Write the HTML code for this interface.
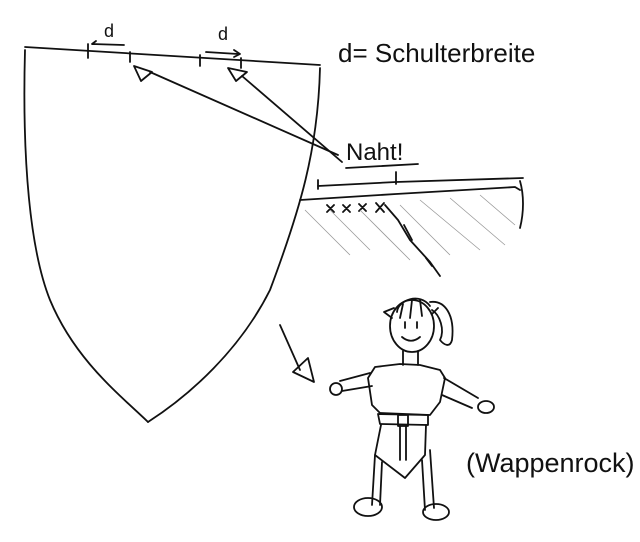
<!DOCTYPE html>
<html><head><meta charset="utf-8"><style>
html,body{margin:0;padding:0;background:#fff;}
svg{display:block}
text{font-family:"Liberation Sans",sans-serif;fill:#111}
</style></head><body>
<svg width="640" height="542" viewBox="0 0 640 542" xmlns="http://www.w3.org/2000/svg">
<g fill="none" stroke="#111" stroke-width="1.8" stroke-linecap="round" stroke-linejoin="round">
<!-- shield -->
<path d="M25,47 L320,65"/>
<path d="M25,50 C22,160 30,250 50,300 C75,360 120,395 148,422"/>
<path d="M320,68 C318,150 300,210 270,290 C240,350 190,395 148,422"/>
<!-- ticks -->
<path d="M88,44 V58 M130,52 V62 M200,55 V66 M241,58 V68"/>
<!-- d arrows -->
<path d="M124,45 L92,44 M92,44 L96,41"/>
<path d="M206,52 L238,54 M234,50 L240,54 L234,57"/>
<!-- triangles + lines -->
<path d="M134,66 L152,72 L141,81 Z"/>
<path d="M228,68 L247,72 L236,81 Z"/>
<path d="M150,72 L338,155"/>
<path d="M242,76 L342,162"/>
<!-- Naht underline -->
<path d="M346,168 L418,164"/>
<!-- seam strip -->
<path d="M318,186 L396,182 L523,178"/>
<path d="M318,180 V189 M396,172 V184"/>
<path d="M300,200 L396,194 L515,187 L520,190"/>
<path d="M520,181 C524,195 524,212 520,228"/>
<path d="M327,205 l7,7 M334,205 l-7,7 M343,205 l7,7 M350,205 l-7,7 M359,204 l7,7 M366,204 l-7,7 M376,203 l8,9 M384,203 l-8,9"/>
<path d="M385,205 L398,220 L410,240 L430,262 L440,276"/>
<path d="M404,225 L412,240 M426,258 L432,266"/>
<!-- arrow to figure -->
<path d="M280,325 L300,370"/>
<path d="M293,372 L314,382 L308,358 Z"/>
<!-- figure -->
<ellipse cx="412" cy="326" rx="22" ry="26"/>
<path d="M392,318 L384,312 L394,308"/>
<path d="M432,314 L438,308"/>
<path d="M397,312 C398,300 420,292 430,306 M403,304 L400,318 M412,300 L410,318 M420,300 L422,316"/>
<path d="M430,302 C445,300 455,315 452,340 C450,348 444,345 440,340 C445,330 440,315 432,310"/>
<path d="M405,322 V328 M417,322 V328 M402,337 C408,342 414,342 420,337"/>
<path d="M403,351 V365 M418,351 V365"/>
<path d="M375,367 L400,364 L420,365 L440,370 L445,378 L440,402 L430,415 L380,413 L372,405 L368,378 Z"/>
<path d="M370,373 L340,381 M372,386 L342,391"/>
<circle cx="336" cy="389" r="6"/>
<path d="M444,378 L478,398 M442,395 L472,408"/>
<ellipse cx="486" cy="407" rx="8" ry="6"/>
<path d="M378,414 L428,415 L428,425 L380,424 Z"/>
<rect x="398" y="415" width="10" height="11"/>
<path d="M381,425 L375,455 L405,478 L425,455 L426,425"/>
<path d="M400,426 V460 M406,426 V460"/>
<path d="M375,455 L372,505 M382,462 L380,505"/>
<path d="M422,460 L425,510 M430,450 L434,508"/>
<ellipse cx="368" cy="507" rx="14" ry="9"/>
<ellipse cx="436" cy="512" rx="13" ry="8"/>
</g>
<g stroke="#999" stroke-width="0.8">
<path d="M330,210 L370,250 M360,210 L410,260 M400,205 L450,255 M420,200 L480,250 M450,198 L505,245 M480,195 L515,225 M320,225 L350,255 M305,210 L325,230"/>
</g>
<text x="104" y="37" font-size="18">d</text>
<text x="218" y="40" font-size="18">d</text>
<text x="338" y="62" font-size="26">d= Schulterbreite</text>
<text x="346" y="160" font-size="24">Naht!</text>
<text x="466" y="472" font-size="27">(Wappenrock)</text>
</svg>
</body></html>
